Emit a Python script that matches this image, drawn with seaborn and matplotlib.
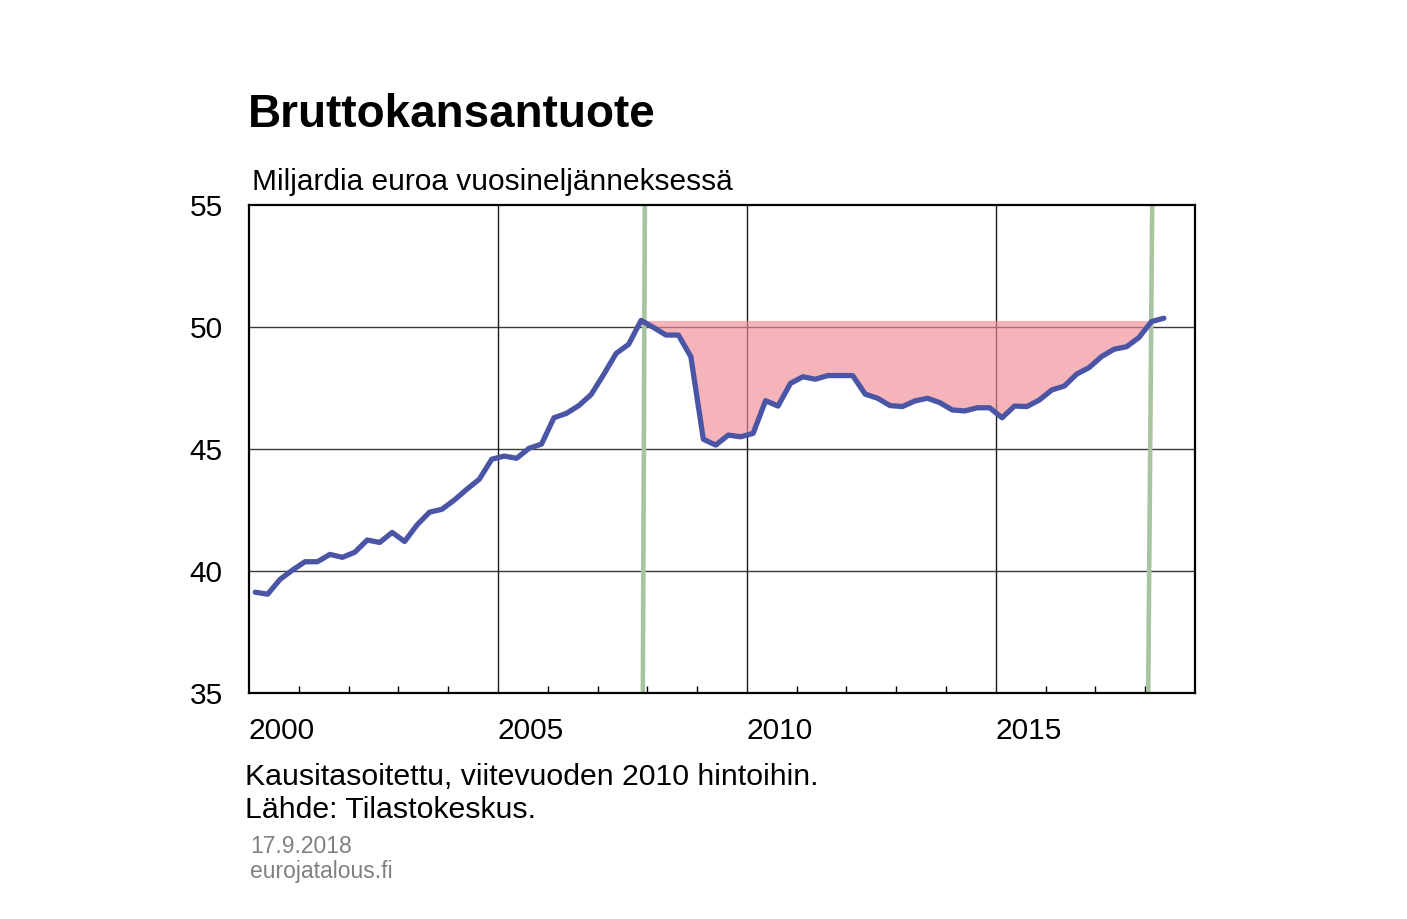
import numpy as np
import pandas as pd
import matplotlib.pyplot as plt
import seaborn as sns

# BKT, mrd euroa / neljännes, 2000Q1 - 2018Q2
quarters = pd.period_range("2000Q1", "2018Q2", freq="Q")
gdp = [39.13, 39.05, 39.66, 40.04,
       40.38, 40.38, 40.68, 40.56,
       40.77, 41.27, 41.17, 41.58,
       41.21, 41.89, 42.41, 42.53,
       42.91, 43.35, 43.76, 44.58,
       44.71, 44.62, 45.03, 45.20,
       46.28, 46.46, 46.78, 47.24,
       48.06, 48.92, 49.29, 50.27,
       49.98, 49.67, 49.67, 48.78,
       45.40, 45.16, 45.57, 45.50,
       45.64, 46.98, 46.76, 47.69,
       47.96, 47.86, 48.01, 48.01,
       48.01, 47.25, 47.08, 46.78,
       46.74, 46.97, 47.08, 46.90,
       46.60, 46.56, 46.69, 46.69,
       46.28, 46.76, 46.74, 47.01,
       47.42, 47.58, 48.07, 48.34,
       48.79, 49.09, 49.19, 49.57,
       50.22, 50.36]
peak_q = "2007Q4"
recovery_q = "2018Q1"
# vihreät pystyviivat (ylä- ja alapään vuosi)
marker_top = [2007.95, 2018.14]
marker_bottom = [2007.91, 2018.06]
year_labels = ["2000", "2005", "2010", "2015"]

df = pd.DataFrame({"q": quarters.astype(str), "gdp": gdp})
df["t"] = quarters.year + (quarters.quarter - 0.5) / 4

sns.set_style("white")
plt.rcParams["font.family"] = ["Liberation Sans", "DejaVu Sans"]
plt.rcParams["text.color"] = "black"
plt.rcParams["xtick.color"] = "black"
plt.rcParams["ytick.color"] = "black"

W, H = 1407, 919
fig = plt.figure(figsize=(W / 100, H / 100), dpi=100)
ax = fig.add_axes([249 / W, 1 - 693 / H, (1195 - 249) / W, (693 - 205) / H])

# gridlines
for v in [40, 45, 50]:
    ax.axhline(v, color="#3a3a3a", lw=1, zorder=2)
for yr in [2005, 2010, 2015]:
    ax.axvline(yr, color="#1a1a1a", lw=1, zorder=2)

# shaded gap below the previous peak
i0 = df.index[df["q"] == peak_q][0]
i1 = df.index[df["q"] == recovery_q][0]
seg = df.loc[i0:i1]
level = df.loc[i0, "gdp"]
ax.fill_between(seg["t"], seg["gdp"], level, color="#f08a95", alpha=0.65,
                lw=0, zorder=3)

for xt, xb in zip(marker_top, marker_bottom):
    ax.plot([xb, xt], [35, 55], color="#a9c5a0", lw=3.3, zorder=4,
            solid_capstyle="butt")

sns.lineplot(data=df, x="t", y="gdp", ax=ax, color="#4b55a6", lw=3.8,
             zorder=5)

ax.set_xlim(2000, 2019)
ax.set_ylim(35, 55)
ax.set_xlabel("")
ax.set_ylabel("")
ax.set_yticks([35, 40, 45, 50, 55])
ax.set_yticklabels(["35", "40", "45", "50", "55"])
ax.set_xticks([int(y) for y in year_labels])
ax.set_xticklabels(year_labels, ha="left")
ax.set_xticks(range(2001, 2019), minor=True)
ax.tick_params(axis="y", length=0, pad=19, labelsize=21.5)
ax.tick_params(axis="x", which="major", length=0, pad=17, labelsize=21.5)
ax.tick_params(axis="x", which="minor", direction="in", length=5,
               width=1, color="black", bottom=True)
for s in ax.spines.values():
    s.set_color("black")
    s.set_linewidth(1.6)
    s.set_zorder(6)

fig.text(248 / W, 1 - 127 / H, "Bruttokansantuote", fontsize=33,
         weight="bold", va="baseline")
fig.text(252 / W, 1 - 190 / H, "Miljardia euroa vuosineljänneksessä",
         fontsize=21.5, va="baseline")
fig.text(245 / W, 1 - 785 / H, "Kausitasoitettu, viitevuoden 2010 hintoihin.",
         fontsize=21.8, va="baseline")
fig.text(245 / W, 1 - 818 / H, "Lähde: Tilastokeskus.", fontsize=21.8,
         va="baseline")
fig.text(250 / W, 1 - 853 / H, "17.9.2018", fontsize=16.5, color="#808080",
         va="baseline")
fig.text(250 / W, 1 - 878 / H, "eurojatalous.fi", fontsize=16.5,
         color="#808080", va="baseline")

fig.savefig("out.png", dpi=100)
